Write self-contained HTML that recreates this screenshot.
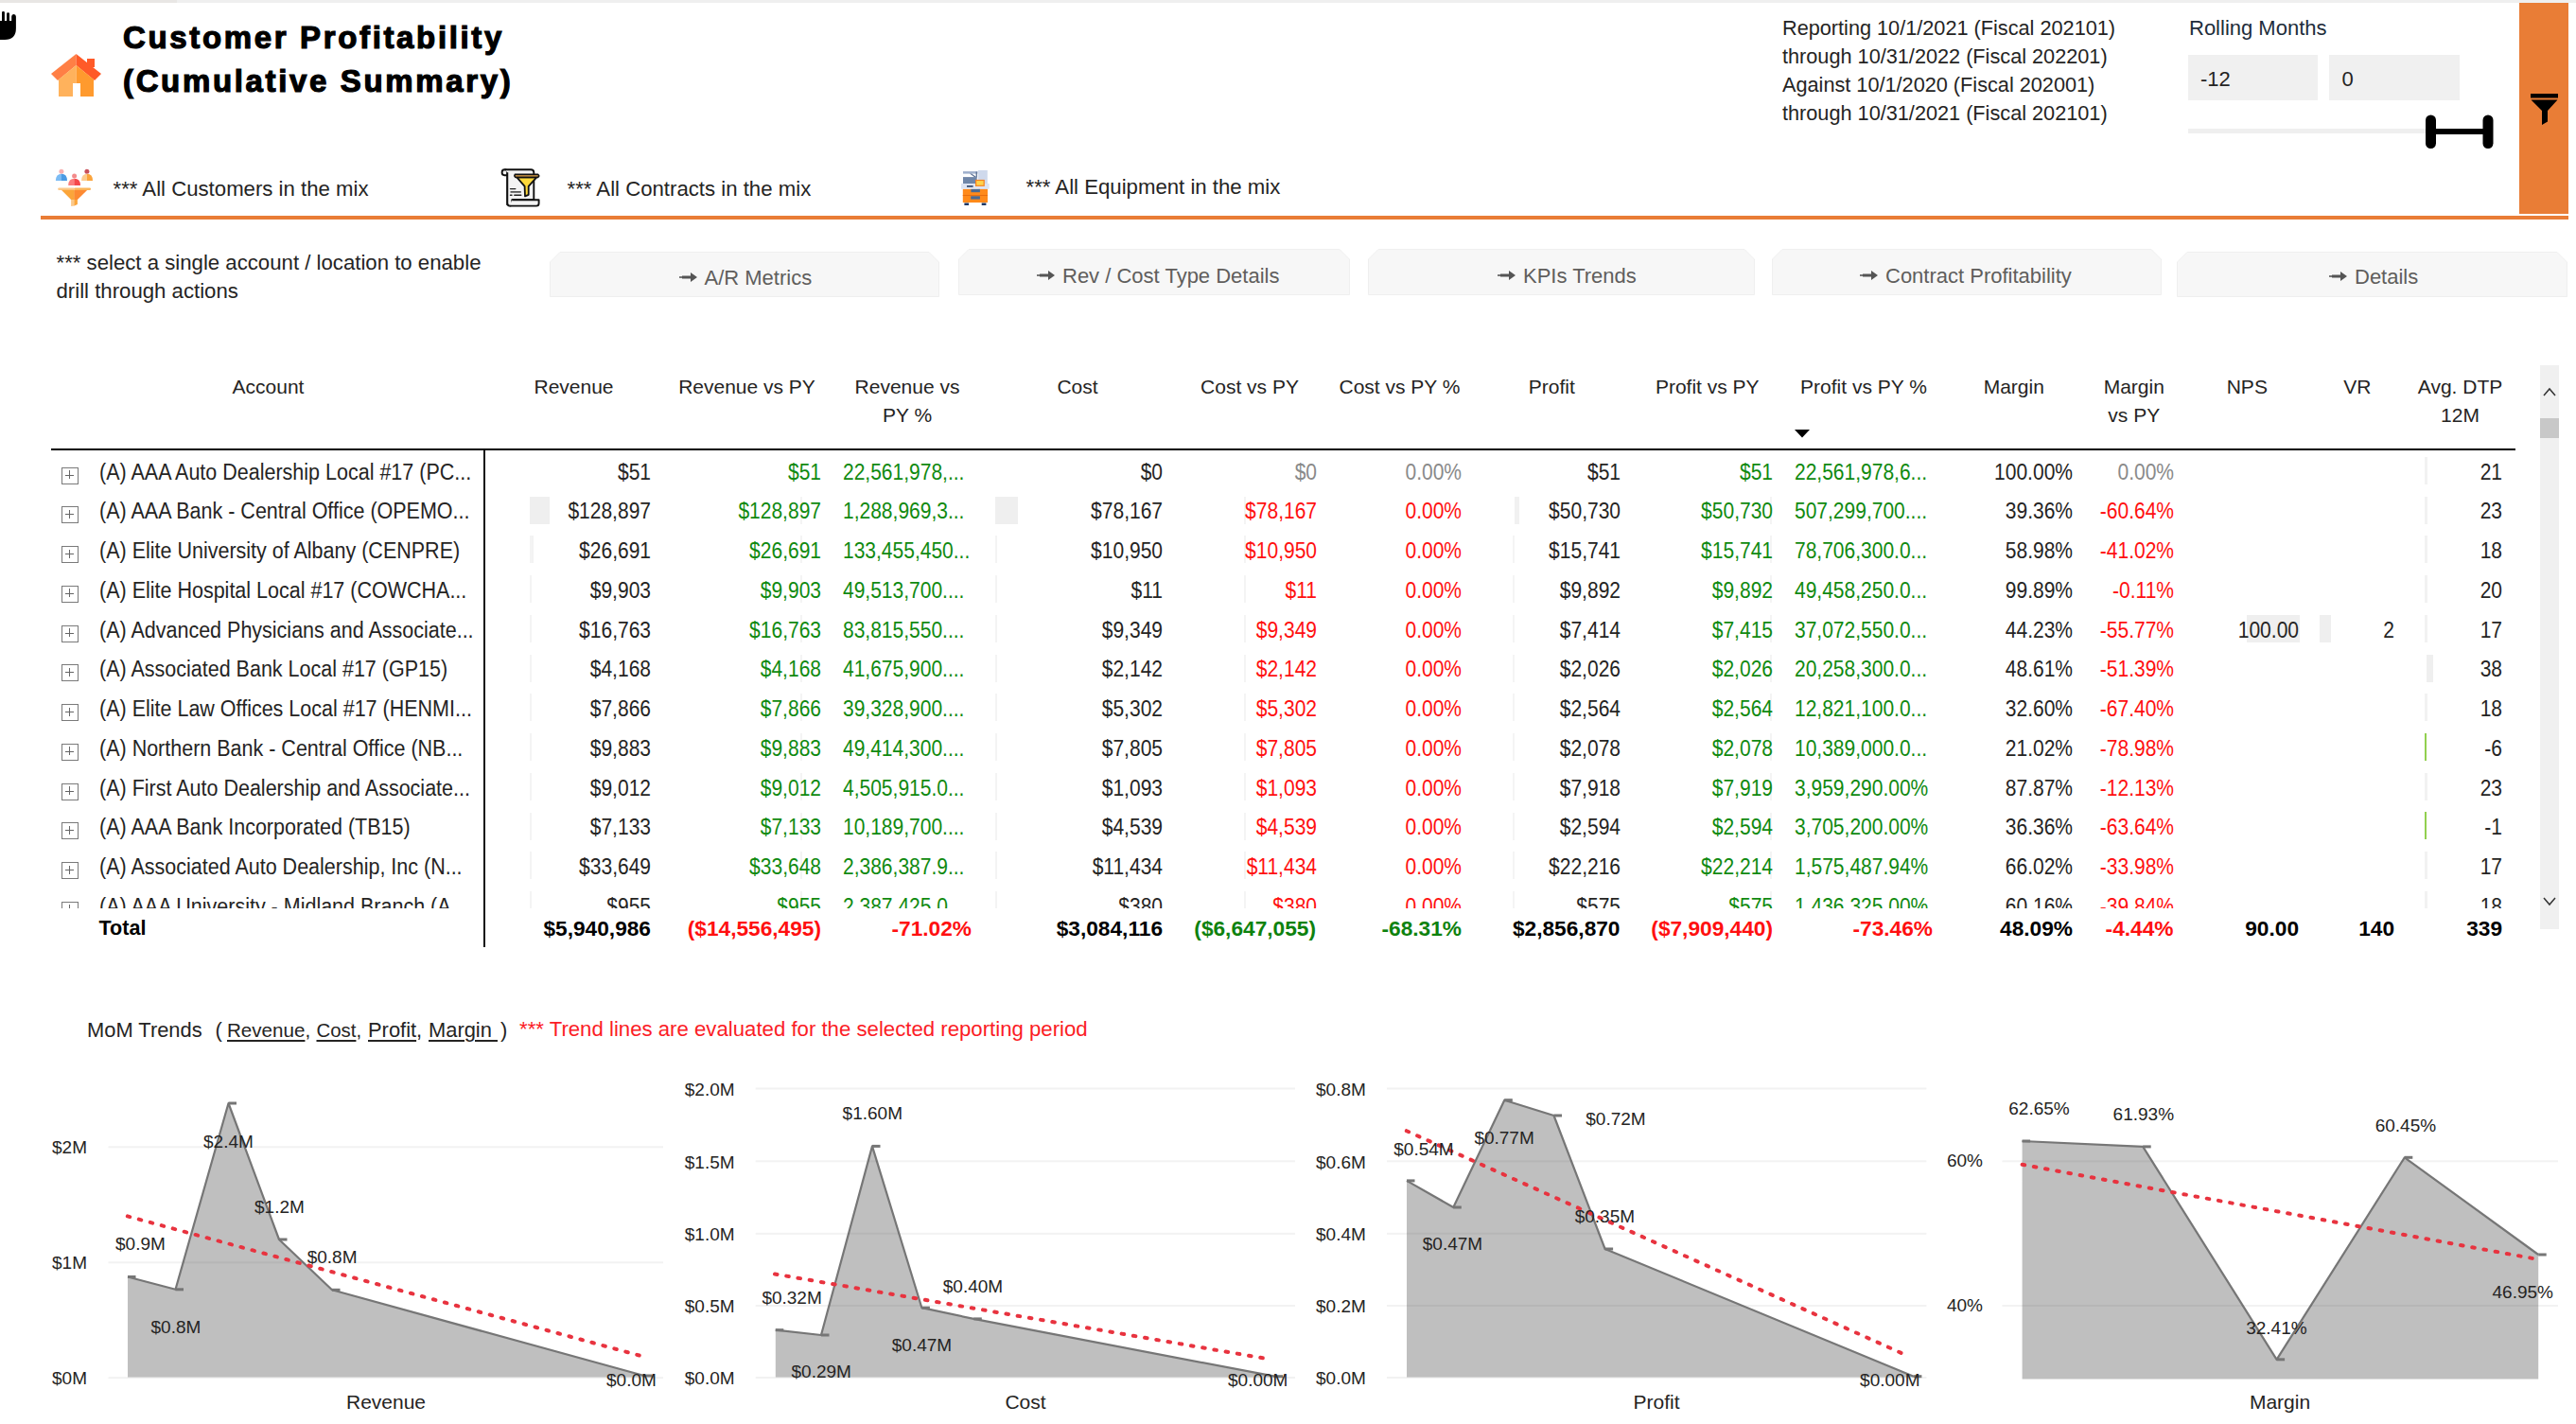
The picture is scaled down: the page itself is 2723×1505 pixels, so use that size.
<!DOCTYPE html>
<html><head><meta charset="utf-8"><style>
html,body{margin:0;padding:0;background:#fff;}
body{width:2723px;height:1505px;position:relative;overflow:hidden;font-family:"Liberation Sans",sans-serif;}
.t{position:absolute;white-space:nowrap;}
.r{position:absolute;}
u{text-underline-offset:3px;text-decoration-thickness:1.5px;}
</style></head><body>
<div class="r" style="left:0px;top:0px;width:187px;height:3px;background:#e8e6e4;"></div>
<div class="r" style="left:187px;top:0px;width:2536px;height:3px;background:#efefef;"></div>
<svg style="position:absolute;left:0;top:0" width="24" height="48" viewBox="0 0 24 48">
<path d="M0 22 L2 22 L2 13 Q2 12 3.5 12 Q4.9 12 4.9 13 L4.9 22 L7.1 22 L7.1 14.5 Q7.1 13.2 8.5 13.2 Q10 13.2 10 14.5 L10 22 L12.2 22 L12.2 17.5 Q12.2 15 14.5 15 Q16.9 15 16.9 17.5 L16.9 30 Q16.9 42 5 42 L0 42 Z" fill="#000"/>
</svg>
<svg style="position:absolute;left:54px;top:57px" width="54" height="45" viewBox="0 0 54 45">
<polygon points="26.5,0 0,21 7,28 26.5,12" fill="#ff7f45"/>
<polygon points="26.5,0 53,21 46,28 26.5,12" fill="#ff5a28"/>
<rect x="38" y="5" width="8" height="9" fill="#ff5a28"/>
<polygon points="8,27 26.5,12 26.5,45 8,45" fill="#ffb25c"/>
<polygon points="26.5,12 45,27 45,45 26.5,45" fill="#ff9a2e"/>
<rect x="23" y="31" width="8" height="14" fill="#fff"/>
</svg>
<div class="t" style="top:23.17px;font-size:33px;line-height:33px;color:#000;font-weight:bold;letter-spacing:2.65px;left:130.00px;-webkit-text-stroke:1.2px #000;">Customer Profitability</div>
<div class="t" style="top:69.07px;font-size:33px;line-height:33px;color:#000;font-weight:bold;letter-spacing:2.65px;left:130.00px;-webkit-text-stroke:1.2px #000;">(Cumulative Summary)</div>
<div class="t" style="top:19.13px;font-size:21.7px;line-height:21.7px;color:#252423;left:1884.00px;">Reporting 10/1/2021 (Fiscal 202101)</div>
<div class="t" style="top:49.13px;font-size:21.7px;line-height:21.7px;color:#252423;left:1884.00px;">through 10/31/2022 (Fiscal 202201)</div>
<div class="t" style="top:79.13px;font-size:21.7px;line-height:21.7px;color:#252423;left:1884.00px;">Against 10/1/2020 (Fiscal 202001)</div>
<div class="t" style="top:109.13px;font-size:21.7px;line-height:21.7px;color:#252423;left:1884.00px;">through 10/31/2021 (Fiscal 202101)</div>
<div class="t" style="top:18.88px;font-size:22px;line-height:22px;color:#1e2d3b;left:2314.00px;">Rolling Months</div>
<div class="r" style="left:2313px;top:58px;width:137px;height:48px;background:#f0f0f0;"></div>
<div class="r" style="left:2462px;top:58px;width:137.5px;height:48px;background:#f0f0f0;"></div>
<div class="t" style="top:72.63px;font-size:22px;line-height:22px;color:#252423;left:2326.00px;">-12</div>
<div class="t" style="top:72.63px;font-size:22px;line-height:22px;color:#252423;left:2475.50px;">0</div>
<div class="r" style="left:2313px;top:136px;width:251px;height:5px;background:#efefef;"></div>
<svg style="position:absolute;left:2562px;top:120px" width="76" height="39" viewBox="0 0 76 39">
<rect x="2" y="1.5" width="11" height="35.5" rx="5.5" fill="#000"/>
<rect x="62.5" y="1.5" width="11" height="35.5" rx="5.5" fill="#000"/>
<rect x="10" y="16" width="56" height="6" fill="#000"/>
</svg>
<div class="r" style="left:2663px;top:3px;width:52px;height:223px;background:#e97d36;"></div>
<svg style="position:absolute;left:2674px;top:98px" width="32" height="34" viewBox="0 0 32 34">
<rect x="1" y="1" width="29" height="4.5" fill="#000"/>
<polygon points="1.5,7.5 29.5,7.5 19,19 19,30.5 13,34 13,19" fill="#000"/>
</svg>
<div class="r" style="left:43px;top:228px;width:2672px;height:4px;background:#e97d36;"></div>
<svg style="position:absolute;left:58px;top:178px" width="42" height="42" viewBox="0 0 42 42">
<circle cx="6.9" cy="3.2" r="2.5" fill="#f7b0b0"/>
<path d="M0.9 13 Q0.9 5.7 7.3 5.7 L7.3 13 Z" fill="#7cbcf4"/><path d="M6.95 5.7 Q13 5.7 13 13 L6.95 13 Z" fill="#4b9be3"/>
<circle cx="20.6" cy="8" r="2.5" fill="#f38b8b"/>
<path d="M14.2 17.9 Q14.2 10.7 20.9 10.7 L20.9 17.9 Z" fill="#fb7d7d"/><path d="M20.6 10.7 Q27 10.7 27 17.9 L20.6 17.9 Z" fill="#f5484b"/>
<circle cx="33.9" cy="3.2" r="2.5" fill="#c9505a"/>
<path d="M28.1 13 Q28.1 5.7 34.3 5.7 L34.3 13 Z" fill="#fccb8e"/><path d="M34 5.7 Q40 5.7 40 13 L34 13 Z" fill="#fba43c"/>
<rect x="3.2" y="20.4" width="17.8" height="2.6" rx="1.2" fill="#fcc98a"/><rect x="20.5" y="20.4" width="17.5" height="2.6" rx="1.2" fill="#fbb45a"/>
<polygon points="6.9,22.8 20.8,22.8 20.8,33.1 17.1,33.1" fill="#fba53a"/>
<polygon points="20.5,23 34.1,23 23.9,32.9 20.5,32.9" fill="#fd8a32"/>
<polygon points="17.1,32.9 20.8,32.9 20.8,39.5 17.1,40" fill="#fcc98a"/>
<polygon points="20.5,32.9 23.9,32.9 23.9,38 20.5,39.5" fill="#fba53a"/>
</svg>
<div class="t" style="top:189.21px;font-size:22.2px;line-height:22.2px;color:#252423;left:119.50px;">*** All Customers in the mix</div>
<svg style="position:absolute;left:525px;top:172px" width="50" height="50" viewBox="0 0 50 50">
<path d="M11.3 45 L11.3 10.3 Q11.3 7.2 8.3 7.2 Q5.6 7.2 5.6 10.3 Q5.6 13.2 8.3 13.2 L11.3 13.2" fill="#f3f3f3" stroke="#111" stroke-width="1.9"/>
<path d="M8.3 7.2 L36.2 7.2 Q39.3 7.2 39.3 10.3 L39.3 39.3 L16.2 39.3 L16.2 42.5 Q16.2 45.6 13.7 45.6 Q11.3 45.6 11.3 42.5 L11.3 10.3" fill="#f3f3f3" stroke="#111" stroke-width="1.9" stroke-linejoin="round"/>
<path d="M16.2 39.3 L44.6 39.3 L44.6 43 Q44.6 45.6 42 45.6 L13.7 45.6" fill="#f3f3f3" stroke="#111" stroke-width="1.9" stroke-linejoin="round"/>
<line x1="14.5" y1="27.6" x2="19.8" y2="27.6" stroke="#222" stroke-width="1.4" stroke-linecap="round"/>
<line x1="14.5" y1="30.9" x2="25.8" y2="30.9" stroke="#444" stroke-width="1.6"/>
<line x1="14.5" y1="34.2" x2="16" y2="34.2" stroke="#222" stroke-width="1.4" stroke-linecap="round"/>
<line x1="18.8" y1="34.2" x2="25.8" y2="34.2" stroke="#222" stroke-width="1.4" stroke-linecap="round"/>
<polygon points="21.3,15.4 42.3,15.4 33.7,24.9 33.7,33.8 30,35.4 29.6,24.9" fill="#ffd93b" stroke="#111" stroke-width="1.8" stroke-linejoin="round"/>
<polygon points="19.3,12.4 43.8,12.4 44.8,13.9 43.6,15.4 19.8,15.4 18.8,13.9" fill="#e8a84a" stroke="#111" stroke-width="1.6" stroke-linejoin="round"/>
</svg>
<div class="t" style="top:189.21px;font-size:22.2px;line-height:22.2px;color:#252423;left:599.50px;">*** All Contracts in the mix</div>
<svg style="position:absolute;left:1015px;top:179px" width="32" height="40" viewBox="0 0 32 40">
<rect x="18.8" y="0.9" width="10" height="19.8" fill="#cfd9ec"/>
<rect x="3" y="2.1" width="15.5" height="2.5" fill="#9fb0cc"/>
<polygon points="10,4.6 12,4.6 17.7,8.5 15.5,8.5" fill="#5a6f92"/>
<rect x="16.6" y="2.5" width="1.3" height="6" fill="#5a6f92"/>
<rect x="3" y="8.1" width="14.7" height="6.9" fill="#6f86a8"/>
<rect x="1" y="15" width="29.7" height="5.7" fill="#dde4f2"/>
<rect x="7" y="17" width="6.6" height="1.8" fill="#3a4f70"/>
<rect x="16" y="10.9" width="9.8" height="7" fill="#f5821f"/>
<rect x="17.2" y="12.1" width="7.4" height="4.6" fill="#ffd34d"/>
<rect x="2.8" y="20.9" width="26.2" height="14.2" fill="#ff8a1a"/>
<rect x="2.8" y="27" width="26.2" height="1" fill="#e86e10"/>
<rect x="11.4" y="20.9" width="9.5" height="3.3" fill="#4a6a92"/>
<rect x="11.2" y="28.3" width="9.7" height="3.3" fill="#4a6a92"/>
<rect x="4.4" y="35.5" width="4.7" height="2.5" fill="#1f3864"/>
<rect x="22.7" y="35.5" width="4.7" height="2.5" fill="#1f3864"/>
</svg>
<div class="t" style="top:187.21px;font-size:22.2px;line-height:22.2px;color:#252423;left:1084.50px;">*** All Equipment in the mix</div>
<div class="t" style="top:266.71px;font-size:22.2px;line-height:22.2px;color:#252423;left:59.50px;">*** select a single account / location to enable</div>
<div class="t" style="top:296.71px;font-size:22.2px;line-height:22.2px;color:#252423;left:59.50px;">drill through actions</div>
<svg style="position:absolute;left:581px;top:266px" width="412" height="48" viewBox="0 0 412 48">
<polygon points="11,0.5 401,0.5 411.5,11 411.5,47.5 0.5,47.5 0.5,11" fill="#f7f7f7" stroke="#efefef" stroke-width="1"/></svg>
<svg style="position:absolute;left:717.5px;top:287px" width="20" height="12" viewBox="0 0 20 12">
<rect x="0" y="5" width="3" height="2" fill="#777"/><rect x="3" y="4.5" width="11" height="3" fill="#555"/>
<polygon points="12,1 19,6 12,11" fill="#555"/></svg>
<div class="t" style="top:283.38px;font-size:22px;line-height:22px;color:#605e5c;left:744.50px;">A/R Metrics</div>
<svg style="position:absolute;left:1013px;top:263px" width="414" height="49" viewBox="0 0 414 49">
<polygon points="11,0.5 403,0.5 413.5,11 413.5,48.5 0.5,48.5 0.5,11" fill="#f7f7f7" stroke="#efefef" stroke-width="1"/></svg>
<svg style="position:absolute;left:1096px;top:284.5px" width="20" height="12" viewBox="0 0 20 12">
<rect x="0" y="5" width="3" height="2" fill="#777"/><rect x="3" y="4.5" width="11" height="3" fill="#555"/>
<polygon points="12,1 19,6 12,11" fill="#555"/></svg>
<div class="t" style="top:280.88px;font-size:22px;line-height:22px;color:#605e5c;left:1123.00px;">Rev / Cost Type Details</div>
<svg style="position:absolute;left:1446px;top:263px" width="409" height="49" viewBox="0 0 409 49">
<polygon points="11,0.5 398,0.5 408.5,11 408.5,48.5 0.5,48.5 0.5,11" fill="#f7f7f7" stroke="#efefef" stroke-width="1"/></svg>
<svg style="position:absolute;left:1583px;top:284.5px" width="20" height="12" viewBox="0 0 20 12">
<rect x="0" y="5" width="3" height="2" fill="#777"/><rect x="3" y="4.5" width="11" height="3" fill="#555"/>
<polygon points="12,1 19,6 12,11" fill="#555"/></svg>
<div class="t" style="top:280.88px;font-size:22px;line-height:22px;color:#605e5c;left:1610.00px;">KPIs Trends</div>
<svg style="position:absolute;left:1873px;top:263px" width="412" height="49" viewBox="0 0 412 49">
<polygon points="11,0.5 401,0.5 411.5,11 411.5,48.5 0.5,48.5 0.5,11" fill="#f7f7f7" stroke="#efefef" stroke-width="1"/></svg>
<svg style="position:absolute;left:1966px;top:284.5px" width="20" height="12" viewBox="0 0 20 12">
<rect x="0" y="5" width="3" height="2" fill="#777"/><rect x="3" y="4.5" width="11" height="3" fill="#555"/>
<polygon points="12,1 19,6 12,11" fill="#555"/></svg>
<div class="t" style="top:280.88px;font-size:22px;line-height:22px;color:#605e5c;left:1993.00px;">Contract Profitability</div>
<svg style="position:absolute;left:2301px;top:266px" width="413" height="48" viewBox="0 0 413 48">
<polygon points="11,0.5 402,0.5 412.5,11 412.5,47.5 0.5,47.5 0.5,11" fill="#f7f7f7" stroke="#efefef" stroke-width="1"/></svg>
<svg style="position:absolute;left:2462px;top:286px" width="20" height="12" viewBox="0 0 20 12">
<rect x="0" y="5" width="3" height="2" fill="#777"/><rect x="3" y="4.5" width="11" height="3" fill="#555"/>
<polygon points="12,1 19,6 12,11" fill="#555"/></svg>
<div class="t" style="top:282.38px;font-size:22px;line-height:22px;color:#605e5c;left:2489.00px;">Details</div>
<div class="t" style="top:398.47px;font-size:21px;line-height:21px;color:#252423;left:-316.50px;width:1200px;text-align:center;">Account</div>
<div class="t" style="top:398.47px;font-size:21px;line-height:21px;color:#252423;left:6.50px;width:1200px;text-align:center;">Revenue</div>
<div class="t" style="top:398.47px;font-size:21px;line-height:21px;color:#252423;left:189.50px;width:1200px;text-align:center;">Revenue vs PY</div>
<div class="t" style="top:398.47px;font-size:21px;line-height:21px;color:#252423;left:359.00px;width:1200px;text-align:center;">Revenue vs</div>
<div class="t" style="top:427.97px;font-size:21px;line-height:21px;color:#252423;left:359.00px;width:1200px;text-align:center;">PY %</div>
<div class="t" style="top:398.47px;font-size:21px;line-height:21px;color:#252423;left:539.00px;width:1200px;text-align:center;">Cost</div>
<div class="t" style="top:398.47px;font-size:21px;line-height:21px;color:#252423;left:721.00px;width:1200px;text-align:center;">Cost vs PY</div>
<div class="t" style="top:398.47px;font-size:21px;line-height:21px;color:#252423;left:879.50px;width:1200px;text-align:center;">Cost vs PY %</div>
<div class="t" style="top:398.47px;font-size:21px;line-height:21px;color:#252423;left:1040.25px;width:1200px;text-align:center;">Profit</div>
<div class="t" style="top:398.47px;font-size:21px;line-height:21px;color:#252423;left:1204.75px;width:1200px;text-align:center;">Profit vs PY</div>
<div class="t" style="top:398.47px;font-size:21px;line-height:21px;color:#252423;left:1370.00px;width:1200px;text-align:center;">Profit vs PY %</div>
<div class="t" style="top:398.47px;font-size:21px;line-height:21px;color:#252423;left:1528.75px;width:1200px;text-align:center;">Margin</div>
<div class="t" style="top:398.47px;font-size:21px;line-height:21px;color:#252423;left:1655.75px;width:1200px;text-align:center;">Margin</div>
<div class="t" style="top:427.97px;font-size:21px;line-height:21px;color:#252423;left:1655.75px;width:1200px;text-align:center;">vs PY</div>
<div class="t" style="top:398.47px;font-size:21px;line-height:21px;color:#252423;left:1775.30px;width:1200px;text-align:center;">NPS</div>
<div class="t" style="top:398.47px;font-size:21px;line-height:21px;color:#252423;left:1891.80px;width:1200px;text-align:center;">VR</div>
<div class="t" style="top:398.47px;font-size:21px;line-height:21px;color:#252423;left:2000.50px;width:1200px;text-align:center;">Avg. DTP</div>
<div class="t" style="top:427.97px;font-size:21px;line-height:21px;color:#252423;left:2000.50px;width:1200px;text-align:center;">12M</div>
<svg style="position:absolute;left:1897px;top:454px" width="16" height="9" viewBox="0 0 16 9"><polygon points="0,0 16,0 8,8.5" fill="#000"/></svg>
<div class="r" style="left:54px;top:473.5px;width:2605px;height:2.5px;background:#000;"></div>
<div class="r" style="left:511px;top:475px;width:2.2px;height:526px;background:#111;"></div>
<div class="r" style="left:560px;top:524.5px;width:21px;height:29px;background:#efefef;"></div>
<div class="r" style="left:1052px;top:524.5px;width:24px;height:29px;background:#efefef;"></div>
<div class="r" style="left:1601px;top:524.5px;width:5px;height:29px;background:#f1f1f1;"></div>
<div class="r" style="left:560px;top:566px;width:4px;height:29px;background:#f3f3f3;"></div>
<div class="r" style="left:2375px;top:650px;width:56px;height:29px;background:#efefef;"></div>
<div class="r" style="left:2452px;top:650px;width:12px;height:29px;background:#efefef;"></div>
<div class="r" style="left:2565px;top:692px;width:7px;height:29px;background:#efefef;"></div>
<div class="r" style="left:846px;top:524.5px;width:2px;height:29px;background:#f4f4f4;"></div>
<div class="r" style="left:1315px;top:524.5px;width:2px;height:29px;background:#f4f4f4;"></div>
<div class="r" style="left:1871px;top:524.5px;width:2px;height:29px;background:#f4f4f4;"></div>
<div class="r" style="left:560px;top:566.25px;width:2px;height:29px;background:#f4f4f4;"></div>
<div class="r" style="left:846px;top:566.25px;width:2px;height:29px;background:#f4f4f4;"></div>
<div class="r" style="left:1052px;top:566.25px;width:2px;height:29px;background:#f4f4f4;"></div>
<div class="r" style="left:1315px;top:566.25px;width:2px;height:29px;background:#f4f4f4;"></div>
<div class="r" style="left:1599px;top:566.25px;width:2px;height:29px;background:#f4f4f4;"></div>
<div class="r" style="left:1871px;top:566.25px;width:2px;height:29px;background:#f4f4f4;"></div>
<div class="r" style="left:560px;top:608.0px;width:2px;height:29px;background:#f4f4f4;"></div>
<div class="r" style="left:846px;top:608.0px;width:2px;height:29px;background:#f4f4f4;"></div>
<div class="r" style="left:1052px;top:608.0px;width:2px;height:29px;background:#f4f4f4;"></div>
<div class="r" style="left:1315px;top:608.0px;width:2px;height:29px;background:#f4f4f4;"></div>
<div class="r" style="left:1599px;top:608.0px;width:2px;height:29px;background:#f4f4f4;"></div>
<div class="r" style="left:1871px;top:608.0px;width:2px;height:29px;background:#f4f4f4;"></div>
<div class="r" style="left:560px;top:649.75px;width:2px;height:29px;background:#f4f4f4;"></div>
<div class="r" style="left:846px;top:649.75px;width:2px;height:29px;background:#f4f4f4;"></div>
<div class="r" style="left:1052px;top:649.75px;width:2px;height:29px;background:#f4f4f4;"></div>
<div class="r" style="left:1315px;top:649.75px;width:2px;height:29px;background:#f4f4f4;"></div>
<div class="r" style="left:1599px;top:649.75px;width:2px;height:29px;background:#f4f4f4;"></div>
<div class="r" style="left:1871px;top:649.75px;width:2px;height:29px;background:#f4f4f4;"></div>
<div class="r" style="left:560px;top:691.5px;width:2px;height:29px;background:#f4f4f4;"></div>
<div class="r" style="left:846px;top:691.5px;width:2px;height:29px;background:#f4f4f4;"></div>
<div class="r" style="left:1052px;top:691.5px;width:2px;height:29px;background:#f4f4f4;"></div>
<div class="r" style="left:1315px;top:691.5px;width:2px;height:29px;background:#f4f4f4;"></div>
<div class="r" style="left:1599px;top:691.5px;width:2px;height:29px;background:#f4f4f4;"></div>
<div class="r" style="left:1871px;top:691.5px;width:2px;height:29px;background:#f4f4f4;"></div>
<div class="r" style="left:560px;top:733.25px;width:2px;height:29px;background:#f4f4f4;"></div>
<div class="r" style="left:846px;top:733.25px;width:2px;height:29px;background:#f4f4f4;"></div>
<div class="r" style="left:1052px;top:733.25px;width:2px;height:29px;background:#f4f4f4;"></div>
<div class="r" style="left:1315px;top:733.25px;width:2px;height:29px;background:#f4f4f4;"></div>
<div class="r" style="left:1599px;top:733.25px;width:2px;height:29px;background:#f4f4f4;"></div>
<div class="r" style="left:1871px;top:733.25px;width:2px;height:29px;background:#f4f4f4;"></div>
<div class="r" style="left:560px;top:775.0px;width:2px;height:29px;background:#f4f4f4;"></div>
<div class="r" style="left:846px;top:775.0px;width:2px;height:29px;background:#f4f4f4;"></div>
<div class="r" style="left:1052px;top:775.0px;width:2px;height:29px;background:#f4f4f4;"></div>
<div class="r" style="left:1315px;top:775.0px;width:2px;height:29px;background:#f4f4f4;"></div>
<div class="r" style="left:1599px;top:775.0px;width:2px;height:29px;background:#f4f4f4;"></div>
<div class="r" style="left:1871px;top:775.0px;width:2px;height:29px;background:#f4f4f4;"></div>
<div class="r" style="left:560px;top:816.75px;width:2px;height:29px;background:#f4f4f4;"></div>
<div class="r" style="left:846px;top:816.75px;width:2px;height:29px;background:#f4f4f4;"></div>
<div class="r" style="left:1052px;top:816.75px;width:2px;height:29px;background:#f4f4f4;"></div>
<div class="r" style="left:1315px;top:816.75px;width:2px;height:29px;background:#f4f4f4;"></div>
<div class="r" style="left:1599px;top:816.75px;width:2px;height:29px;background:#f4f4f4;"></div>
<div class="r" style="left:1871px;top:816.75px;width:2px;height:29px;background:#f4f4f4;"></div>
<div class="r" style="left:560px;top:858.5px;width:2px;height:29px;background:#f4f4f4;"></div>
<div class="r" style="left:846px;top:858.5px;width:2px;height:29px;background:#f4f4f4;"></div>
<div class="r" style="left:1052px;top:858.5px;width:2px;height:29px;background:#f4f4f4;"></div>
<div class="r" style="left:1315px;top:858.5px;width:2px;height:29px;background:#f4f4f4;"></div>
<div class="r" style="left:1599px;top:858.5px;width:2px;height:29px;background:#f4f4f4;"></div>
<div class="r" style="left:1871px;top:858.5px;width:2px;height:29px;background:#f4f4f4;"></div>
<div class="r" style="left:560px;top:900.25px;width:2px;height:29px;background:#f4f4f4;"></div>
<div class="r" style="left:846px;top:900.25px;width:2px;height:29px;background:#f4f4f4;"></div>
<div class="r" style="left:1052px;top:900.25px;width:2px;height:29px;background:#f4f4f4;"></div>
<div class="r" style="left:1315px;top:900.25px;width:2px;height:29px;background:#f4f4f4;"></div>
<div class="r" style="left:1599px;top:900.25px;width:2px;height:29px;background:#f4f4f4;"></div>
<div class="r" style="left:1871px;top:900.25px;width:2px;height:29px;background:#f4f4f4;"></div>
<div class="r" style="left:560px;top:942.0px;width:2px;height:18.0px;background:#f4f4f4;"></div>
<div class="r" style="left:846px;top:942.0px;width:2px;height:18.0px;background:#f4f4f4;"></div>
<div class="r" style="left:1052px;top:942.0px;width:2px;height:18.0px;background:#f4f4f4;"></div>
<div class="r" style="left:1315px;top:942.0px;width:2px;height:18.0px;background:#f4f4f4;"></div>
<div class="r" style="left:1599px;top:942.0px;width:2px;height:18.0px;background:#f4f4f4;"></div>
<div class="r" style="left:1871px;top:942.0px;width:2px;height:18.0px;background:#f4f4f4;"></div>
<div class="r" style="left:2563px;top:482.75px;width:3px;height:29px;background:#f2f2f2;"></div>
<div class="r" style="left:2563px;top:524.5px;width:3px;height:29px;background:#f2f2f2;"></div>
<div class="r" style="left:2563px;top:566.25px;width:3px;height:29px;background:#f2f2f2;"></div>
<div class="r" style="left:2563px;top:608.0px;width:3px;height:29px;background:#f2f2f2;"></div>
<div class="r" style="left:2563px;top:649.75px;width:3px;height:29px;background:#f2f2f2;"></div>
<div class="r" style="left:2563px;top:733.25px;width:3px;height:29px;background:#f2f2f2;"></div>
<div class="r" style="left:2563px;top:816.75px;width:3px;height:29px;background:#f2f2f2;"></div>
<div class="r" style="left:2563px;top:900.25px;width:3px;height:29px;background:#f2f2f2;"></div>
<div class="r" style="left:2563px;top:942.0px;width:3px;height:18.0px;background:#f2f2f2;"></div>
<div class="r" style="left:2563px;top:775px;width:2px;height:29px;background:#92d050;"></div>
<div class="r" style="left:2563px;top:858px;width:2px;height:29px;background:#92d050;"></div>
<div style="position:absolute;left:0;top:476px;width:2680px;height:484px;overflow:hidden">
<div class="r" style="left:65px;top:17.50px;width:16px;height:16px;border:1px solid #7a7a7a;background:#fff"></div>
<div class="r" style="left:69px;top:25.50px;width:9px;height:1px;background:#666"></div>
<div class="r" style="left:73px;top:21.00px;width:1px;height:9px;background:#666"></div>
<div class="t" style="top:11.53px;font-size:23px;line-height:23px;color:#252423;transform:scaleX(0.9347826086956522);transform-origin:left center;left:104.50px;">(A) AAA Auto Dealership Local #17 (PC...</div>
<div class="t" style="top:11.53px;font-size:23px;line-height:23px;color:#252423;transform:scaleX(0.9130434782608695);transform-origin:right center;left:-512.50px;width:1200px;text-align:right;">$51</div>
<div class="t" style="top:11.53px;font-size:23px;line-height:23px;color:#108a10;transform:scaleX(0.9130434782608695);transform-origin:right center;left:-332.50px;width:1200px;text-align:right;">$51</div>
<div class="t" style="top:11.53px;font-size:23px;line-height:23px;color:#108a10;transform:scaleX(0.9130434782608695);transform-origin:left center;left:890.50px;">22,561,978,...</div>
<div class="t" style="top:11.53px;font-size:23px;line-height:23px;color:#252423;transform:scaleX(0.9130434782608695);transform-origin:right center;left:29.00px;width:1200px;text-align:right;">$0</div>
<div class="t" style="top:11.53px;font-size:23px;line-height:23px;color:#8a8a8a;transform:scaleX(0.9130434782608695);transform-origin:right center;left:192.00px;width:1200px;text-align:right;">$0</div>
<div class="t" style="top:11.53px;font-size:23px;line-height:23px;color:#8a8a8a;transform:scaleX(0.9130434782608695);transform-origin:right center;left:345.00px;width:1200px;text-align:right;">0.00%</div>
<div class="t" style="top:11.53px;font-size:23px;line-height:23px;color:#252423;transform:scaleX(0.9130434782608695);transform-origin:right center;left:512.50px;width:1200px;text-align:right;">$51</div>
<div class="t" style="top:11.53px;font-size:23px;line-height:23px;color:#108a10;transform:scaleX(0.9130434782608695);transform-origin:right center;left:674.00px;width:1200px;text-align:right;">$51</div>
<div class="t" style="top:11.53px;font-size:23px;line-height:23px;color:#108a10;transform:scaleX(0.9130434782608695);transform-origin:left center;left:1897.00px;">22,561,978,6...</div>
<div class="t" style="top:11.53px;font-size:23px;line-height:23px;color:#252423;transform:scaleX(0.9130434782608695);transform-origin:right center;left:991.00px;width:1200px;text-align:right;">100.00%</div>
<div class="t" style="top:11.53px;font-size:23px;line-height:23px;color:#8a8a8a;transform:scaleX(0.9130434782608695);transform-origin:right center;left:1097.50px;width:1200px;text-align:right;">0.00%</div>
<div class="t" style="top:11.53px;font-size:23px;line-height:23px;color:#252423;transform:scaleX(0.9130434782608695);transform-origin:right center;left:1445.00px;width:1200px;text-align:right;">21</div>
<div class="r" style="left:65px;top:59.25px;width:16px;height:16px;border:1px solid #7a7a7a;background:#fff"></div>
<div class="r" style="left:69px;top:67.25px;width:9px;height:1px;background:#666"></div>
<div class="r" style="left:73px;top:62.75px;width:1px;height:9px;background:#666"></div>
<div class="t" style="top:53.28px;font-size:23px;line-height:23px;color:#252423;transform:scaleX(0.9347826086956522);transform-origin:left center;left:104.50px;">(A) AAA Bank - Central Office (OPEMO...</div>
<div class="t" style="top:53.28px;font-size:23px;line-height:23px;color:#252423;transform:scaleX(0.9130434782608695);transform-origin:right center;left:-512.50px;width:1200px;text-align:right;">$128,897</div>
<div class="t" style="top:53.28px;font-size:23px;line-height:23px;color:#108a10;transform:scaleX(0.9130434782608695);transform-origin:right center;left:-332.50px;width:1200px;text-align:right;">$128,897</div>
<div class="t" style="top:53.28px;font-size:23px;line-height:23px;color:#108a10;transform:scaleX(0.9130434782608695);transform-origin:left center;left:890.50px;">1,288,969,3...</div>
<div class="t" style="top:53.28px;font-size:23px;line-height:23px;color:#252423;transform:scaleX(0.9130434782608695);transform-origin:right center;left:29.00px;width:1200px;text-align:right;">$78,167</div>
<div class="t" style="top:53.28px;font-size:23px;line-height:23px;color:#ff1010;transform:scaleX(0.9130434782608695);transform-origin:right center;left:192.00px;width:1200px;text-align:right;">$78,167</div>
<div class="t" style="top:53.28px;font-size:23px;line-height:23px;color:#ff1010;transform:scaleX(0.9130434782608695);transform-origin:right center;left:345.00px;width:1200px;text-align:right;">0.00%</div>
<div class="t" style="top:53.28px;font-size:23px;line-height:23px;color:#252423;transform:scaleX(0.9130434782608695);transform-origin:right center;left:512.50px;width:1200px;text-align:right;">$50,730</div>
<div class="t" style="top:53.28px;font-size:23px;line-height:23px;color:#108a10;transform:scaleX(0.9130434782608695);transform-origin:right center;left:674.00px;width:1200px;text-align:right;">$50,730</div>
<div class="t" style="top:53.28px;font-size:23px;line-height:23px;color:#108a10;transform:scaleX(0.9130434782608695);transform-origin:left center;left:1897.00px;">507,299,700....</div>
<div class="t" style="top:53.28px;font-size:23px;line-height:23px;color:#252423;transform:scaleX(0.9130434782608695);transform-origin:right center;left:991.00px;width:1200px;text-align:right;">39.36%</div>
<div class="t" style="top:53.28px;font-size:23px;line-height:23px;color:#ff1010;transform:scaleX(0.9130434782608695);transform-origin:right center;left:1097.50px;width:1200px;text-align:right;">-60.64%</div>
<div class="t" style="top:53.28px;font-size:23px;line-height:23px;color:#252423;transform:scaleX(0.9130434782608695);transform-origin:right center;left:1445.00px;width:1200px;text-align:right;">23</div>
<div class="r" style="left:65px;top:101.00px;width:16px;height:16px;border:1px solid #7a7a7a;background:#fff"></div>
<div class="r" style="left:69px;top:109.00px;width:9px;height:1px;background:#666"></div>
<div class="r" style="left:73px;top:104.50px;width:1px;height:9px;background:#666"></div>
<div class="t" style="top:95.03px;font-size:23px;line-height:23px;color:#252423;transform:scaleX(0.9347826086956522);transform-origin:left center;left:104.50px;">(A) Elite University of Albany (CENPRE)</div>
<div class="t" style="top:95.03px;font-size:23px;line-height:23px;color:#252423;transform:scaleX(0.9130434782608695);transform-origin:right center;left:-512.50px;width:1200px;text-align:right;">$26,691</div>
<div class="t" style="top:95.03px;font-size:23px;line-height:23px;color:#108a10;transform:scaleX(0.9130434782608695);transform-origin:right center;left:-332.50px;width:1200px;text-align:right;">$26,691</div>
<div class="t" style="top:95.03px;font-size:23px;line-height:23px;color:#108a10;transform:scaleX(0.9130434782608695);transform-origin:left center;left:890.50px;">133,455,450...</div>
<div class="t" style="top:95.03px;font-size:23px;line-height:23px;color:#252423;transform:scaleX(0.9130434782608695);transform-origin:right center;left:29.00px;width:1200px;text-align:right;">$10,950</div>
<div class="t" style="top:95.03px;font-size:23px;line-height:23px;color:#ff1010;transform:scaleX(0.9130434782608695);transform-origin:right center;left:192.00px;width:1200px;text-align:right;">$10,950</div>
<div class="t" style="top:95.03px;font-size:23px;line-height:23px;color:#ff1010;transform:scaleX(0.9130434782608695);transform-origin:right center;left:345.00px;width:1200px;text-align:right;">0.00%</div>
<div class="t" style="top:95.03px;font-size:23px;line-height:23px;color:#252423;transform:scaleX(0.9130434782608695);transform-origin:right center;left:512.50px;width:1200px;text-align:right;">$15,741</div>
<div class="t" style="top:95.03px;font-size:23px;line-height:23px;color:#108a10;transform:scaleX(0.9130434782608695);transform-origin:right center;left:674.00px;width:1200px;text-align:right;">$15,741</div>
<div class="t" style="top:95.03px;font-size:23px;line-height:23px;color:#108a10;transform:scaleX(0.9130434782608695);transform-origin:left center;left:1897.00px;">78,706,300.0...</div>
<div class="t" style="top:95.03px;font-size:23px;line-height:23px;color:#252423;transform:scaleX(0.9130434782608695);transform-origin:right center;left:991.00px;width:1200px;text-align:right;">58.98%</div>
<div class="t" style="top:95.03px;font-size:23px;line-height:23px;color:#ff1010;transform:scaleX(0.9130434782608695);transform-origin:right center;left:1097.50px;width:1200px;text-align:right;">-41.02%</div>
<div class="t" style="top:95.03px;font-size:23px;line-height:23px;color:#252423;transform:scaleX(0.9130434782608695);transform-origin:right center;left:1445.00px;width:1200px;text-align:right;">18</div>
<div class="r" style="left:65px;top:142.75px;width:16px;height:16px;border:1px solid #7a7a7a;background:#fff"></div>
<div class="r" style="left:69px;top:150.75px;width:9px;height:1px;background:#666"></div>
<div class="r" style="left:73px;top:146.25px;width:1px;height:9px;background:#666"></div>
<div class="t" style="top:136.78px;font-size:23px;line-height:23px;color:#252423;transform:scaleX(0.9347826086956522);transform-origin:left center;left:104.50px;">(A) Elite Hospital Local #17 (COWCHA...</div>
<div class="t" style="top:136.78px;font-size:23px;line-height:23px;color:#252423;transform:scaleX(0.9130434782608695);transform-origin:right center;left:-512.50px;width:1200px;text-align:right;">$9,903</div>
<div class="t" style="top:136.78px;font-size:23px;line-height:23px;color:#108a10;transform:scaleX(0.9130434782608695);transform-origin:right center;left:-332.50px;width:1200px;text-align:right;">$9,903</div>
<div class="t" style="top:136.78px;font-size:23px;line-height:23px;color:#108a10;transform:scaleX(0.9130434782608695);transform-origin:left center;left:890.50px;">49,513,700....</div>
<div class="t" style="top:136.78px;font-size:23px;line-height:23px;color:#252423;transform:scaleX(0.9130434782608695);transform-origin:right center;left:29.00px;width:1200px;text-align:right;">$11</div>
<div class="t" style="top:136.78px;font-size:23px;line-height:23px;color:#ff1010;transform:scaleX(0.9130434782608695);transform-origin:right center;left:192.00px;width:1200px;text-align:right;">$11</div>
<div class="t" style="top:136.78px;font-size:23px;line-height:23px;color:#ff1010;transform:scaleX(0.9130434782608695);transform-origin:right center;left:345.00px;width:1200px;text-align:right;">0.00%</div>
<div class="t" style="top:136.78px;font-size:23px;line-height:23px;color:#252423;transform:scaleX(0.9130434782608695);transform-origin:right center;left:512.50px;width:1200px;text-align:right;">$9,892</div>
<div class="t" style="top:136.78px;font-size:23px;line-height:23px;color:#108a10;transform:scaleX(0.9130434782608695);transform-origin:right center;left:674.00px;width:1200px;text-align:right;">$9,892</div>
<div class="t" style="top:136.78px;font-size:23px;line-height:23px;color:#108a10;transform:scaleX(0.9130434782608695);transform-origin:left center;left:1897.00px;">49,458,250.0...</div>
<div class="t" style="top:136.78px;font-size:23px;line-height:23px;color:#252423;transform:scaleX(0.9130434782608695);transform-origin:right center;left:991.00px;width:1200px;text-align:right;">99.89%</div>
<div class="t" style="top:136.78px;font-size:23px;line-height:23px;color:#ff1010;transform:scaleX(0.9130434782608695);transform-origin:right center;left:1097.50px;width:1200px;text-align:right;">-0.11%</div>
<div class="t" style="top:136.78px;font-size:23px;line-height:23px;color:#252423;transform:scaleX(0.9130434782608695);transform-origin:right center;left:1445.00px;width:1200px;text-align:right;">20</div>
<div class="r" style="left:65px;top:184.50px;width:16px;height:16px;border:1px solid #7a7a7a;background:#fff"></div>
<div class="r" style="left:69px;top:192.50px;width:9px;height:1px;background:#666"></div>
<div class="r" style="left:73px;top:188.00px;width:1px;height:9px;background:#666"></div>
<div class="t" style="top:178.53px;font-size:23px;line-height:23px;color:#252423;transform:scaleX(0.9347826086956522);transform-origin:left center;left:104.50px;">(A) Advanced Physicians and Associate...</div>
<div class="t" style="top:178.53px;font-size:23px;line-height:23px;color:#252423;transform:scaleX(0.9130434782608695);transform-origin:right center;left:-512.50px;width:1200px;text-align:right;">$16,763</div>
<div class="t" style="top:178.53px;font-size:23px;line-height:23px;color:#108a10;transform:scaleX(0.9130434782608695);transform-origin:right center;left:-332.50px;width:1200px;text-align:right;">$16,763</div>
<div class="t" style="top:178.53px;font-size:23px;line-height:23px;color:#108a10;transform:scaleX(0.9130434782608695);transform-origin:left center;left:890.50px;">83,815,550....</div>
<div class="t" style="top:178.53px;font-size:23px;line-height:23px;color:#252423;transform:scaleX(0.9130434782608695);transform-origin:right center;left:29.00px;width:1200px;text-align:right;">$9,349</div>
<div class="t" style="top:178.53px;font-size:23px;line-height:23px;color:#ff1010;transform:scaleX(0.9130434782608695);transform-origin:right center;left:192.00px;width:1200px;text-align:right;">$9,349</div>
<div class="t" style="top:178.53px;font-size:23px;line-height:23px;color:#ff1010;transform:scaleX(0.9130434782608695);transform-origin:right center;left:345.00px;width:1200px;text-align:right;">0.00%</div>
<div class="t" style="top:178.53px;font-size:23px;line-height:23px;color:#252423;transform:scaleX(0.9130434782608695);transform-origin:right center;left:512.50px;width:1200px;text-align:right;">$7,414</div>
<div class="t" style="top:178.53px;font-size:23px;line-height:23px;color:#108a10;transform:scaleX(0.9130434782608695);transform-origin:right center;left:674.00px;width:1200px;text-align:right;">$7,415</div>
<div class="t" style="top:178.53px;font-size:23px;line-height:23px;color:#108a10;transform:scaleX(0.9130434782608695);transform-origin:left center;left:1897.00px;">37,072,550.0...</div>
<div class="t" style="top:178.53px;font-size:23px;line-height:23px;color:#252423;transform:scaleX(0.9130434782608695);transform-origin:right center;left:991.00px;width:1200px;text-align:right;">44.23%</div>
<div class="t" style="top:178.53px;font-size:23px;line-height:23px;color:#ff1010;transform:scaleX(0.9130434782608695);transform-origin:right center;left:1097.50px;width:1200px;text-align:right;">-55.77%</div>
<div class="t" style="top:178.53px;font-size:23px;line-height:23px;color:#252423;transform:scaleX(0.9130434782608695);transform-origin:right center;left:1230.00px;width:1200px;text-align:right;">100.00</div>
<div class="t" style="top:178.53px;font-size:23px;line-height:23px;color:#252423;transform:scaleX(0.9130434782608695);transform-origin:right center;left:1331.00px;width:1200px;text-align:right;">2</div>
<div class="t" style="top:178.53px;font-size:23px;line-height:23px;color:#252423;transform:scaleX(0.9130434782608695);transform-origin:right center;left:1445.00px;width:1200px;text-align:right;">17</div>
<div class="r" style="left:65px;top:226.25px;width:16px;height:16px;border:1px solid #7a7a7a;background:#fff"></div>
<div class="r" style="left:69px;top:234.25px;width:9px;height:1px;background:#666"></div>
<div class="r" style="left:73px;top:229.75px;width:1px;height:9px;background:#666"></div>
<div class="t" style="top:220.28px;font-size:23px;line-height:23px;color:#252423;transform:scaleX(0.9347826086956522);transform-origin:left center;left:104.50px;">(A) Associated Bank Local #17 (GP15)</div>
<div class="t" style="top:220.28px;font-size:23px;line-height:23px;color:#252423;transform:scaleX(0.9130434782608695);transform-origin:right center;left:-512.50px;width:1200px;text-align:right;">$4,168</div>
<div class="t" style="top:220.28px;font-size:23px;line-height:23px;color:#108a10;transform:scaleX(0.9130434782608695);transform-origin:right center;left:-332.50px;width:1200px;text-align:right;">$4,168</div>
<div class="t" style="top:220.28px;font-size:23px;line-height:23px;color:#108a10;transform:scaleX(0.9130434782608695);transform-origin:left center;left:890.50px;">41,675,900....</div>
<div class="t" style="top:220.28px;font-size:23px;line-height:23px;color:#252423;transform:scaleX(0.9130434782608695);transform-origin:right center;left:29.00px;width:1200px;text-align:right;">$2,142</div>
<div class="t" style="top:220.28px;font-size:23px;line-height:23px;color:#ff1010;transform:scaleX(0.9130434782608695);transform-origin:right center;left:192.00px;width:1200px;text-align:right;">$2,142</div>
<div class="t" style="top:220.28px;font-size:23px;line-height:23px;color:#ff1010;transform:scaleX(0.9130434782608695);transform-origin:right center;left:345.00px;width:1200px;text-align:right;">0.00%</div>
<div class="t" style="top:220.28px;font-size:23px;line-height:23px;color:#252423;transform:scaleX(0.9130434782608695);transform-origin:right center;left:512.50px;width:1200px;text-align:right;">$2,026</div>
<div class="t" style="top:220.28px;font-size:23px;line-height:23px;color:#108a10;transform:scaleX(0.9130434782608695);transform-origin:right center;left:674.00px;width:1200px;text-align:right;">$2,026</div>
<div class="t" style="top:220.28px;font-size:23px;line-height:23px;color:#108a10;transform:scaleX(0.9130434782608695);transform-origin:left center;left:1897.00px;">20,258,300.0...</div>
<div class="t" style="top:220.28px;font-size:23px;line-height:23px;color:#252423;transform:scaleX(0.9130434782608695);transform-origin:right center;left:991.00px;width:1200px;text-align:right;">48.61%</div>
<div class="t" style="top:220.28px;font-size:23px;line-height:23px;color:#ff1010;transform:scaleX(0.9130434782608695);transform-origin:right center;left:1097.50px;width:1200px;text-align:right;">-51.39%</div>
<div class="t" style="top:220.28px;font-size:23px;line-height:23px;color:#252423;transform:scaleX(0.9130434782608695);transform-origin:right center;left:1445.00px;width:1200px;text-align:right;">38</div>
<div class="r" style="left:65px;top:268.00px;width:16px;height:16px;border:1px solid #7a7a7a;background:#fff"></div>
<div class="r" style="left:69px;top:276.00px;width:9px;height:1px;background:#666"></div>
<div class="r" style="left:73px;top:271.50px;width:1px;height:9px;background:#666"></div>
<div class="t" style="top:262.03px;font-size:23px;line-height:23px;color:#252423;transform:scaleX(0.9347826086956522);transform-origin:left center;left:104.50px;">(A) Elite Law Offices Local #17 (HENMI...</div>
<div class="t" style="top:262.03px;font-size:23px;line-height:23px;color:#252423;transform:scaleX(0.9130434782608695);transform-origin:right center;left:-512.50px;width:1200px;text-align:right;">$7,866</div>
<div class="t" style="top:262.03px;font-size:23px;line-height:23px;color:#108a10;transform:scaleX(0.9130434782608695);transform-origin:right center;left:-332.50px;width:1200px;text-align:right;">$7,866</div>
<div class="t" style="top:262.03px;font-size:23px;line-height:23px;color:#108a10;transform:scaleX(0.9130434782608695);transform-origin:left center;left:890.50px;">39,328,900....</div>
<div class="t" style="top:262.03px;font-size:23px;line-height:23px;color:#252423;transform:scaleX(0.9130434782608695);transform-origin:right center;left:29.00px;width:1200px;text-align:right;">$5,302</div>
<div class="t" style="top:262.03px;font-size:23px;line-height:23px;color:#ff1010;transform:scaleX(0.9130434782608695);transform-origin:right center;left:192.00px;width:1200px;text-align:right;">$5,302</div>
<div class="t" style="top:262.03px;font-size:23px;line-height:23px;color:#ff1010;transform:scaleX(0.9130434782608695);transform-origin:right center;left:345.00px;width:1200px;text-align:right;">0.00%</div>
<div class="t" style="top:262.03px;font-size:23px;line-height:23px;color:#252423;transform:scaleX(0.9130434782608695);transform-origin:right center;left:512.50px;width:1200px;text-align:right;">$2,564</div>
<div class="t" style="top:262.03px;font-size:23px;line-height:23px;color:#108a10;transform:scaleX(0.9130434782608695);transform-origin:right center;left:674.00px;width:1200px;text-align:right;">$2,564</div>
<div class="t" style="top:262.03px;font-size:23px;line-height:23px;color:#108a10;transform:scaleX(0.9130434782608695);transform-origin:left center;left:1897.00px;">12,821,100.0...</div>
<div class="t" style="top:262.03px;font-size:23px;line-height:23px;color:#252423;transform:scaleX(0.9130434782608695);transform-origin:right center;left:991.00px;width:1200px;text-align:right;">32.60%</div>
<div class="t" style="top:262.03px;font-size:23px;line-height:23px;color:#ff1010;transform:scaleX(0.9130434782608695);transform-origin:right center;left:1097.50px;width:1200px;text-align:right;">-67.40%</div>
<div class="t" style="top:262.03px;font-size:23px;line-height:23px;color:#252423;transform:scaleX(0.9130434782608695);transform-origin:right center;left:1445.00px;width:1200px;text-align:right;">18</div>
<div class="r" style="left:65px;top:309.75px;width:16px;height:16px;border:1px solid #7a7a7a;background:#fff"></div>
<div class="r" style="left:69px;top:317.75px;width:9px;height:1px;background:#666"></div>
<div class="r" style="left:73px;top:313.25px;width:1px;height:9px;background:#666"></div>
<div class="t" style="top:303.78px;font-size:23px;line-height:23px;color:#252423;transform:scaleX(0.9347826086956522);transform-origin:left center;left:104.50px;">(A) Northern Bank - Central Office (NB...</div>
<div class="t" style="top:303.78px;font-size:23px;line-height:23px;color:#252423;transform:scaleX(0.9130434782608695);transform-origin:right center;left:-512.50px;width:1200px;text-align:right;">$9,883</div>
<div class="t" style="top:303.78px;font-size:23px;line-height:23px;color:#108a10;transform:scaleX(0.9130434782608695);transform-origin:right center;left:-332.50px;width:1200px;text-align:right;">$9,883</div>
<div class="t" style="top:303.78px;font-size:23px;line-height:23px;color:#108a10;transform:scaleX(0.9130434782608695);transform-origin:left center;left:890.50px;">49,414,300....</div>
<div class="t" style="top:303.78px;font-size:23px;line-height:23px;color:#252423;transform:scaleX(0.9130434782608695);transform-origin:right center;left:29.00px;width:1200px;text-align:right;">$7,805</div>
<div class="t" style="top:303.78px;font-size:23px;line-height:23px;color:#ff1010;transform:scaleX(0.9130434782608695);transform-origin:right center;left:192.00px;width:1200px;text-align:right;">$7,805</div>
<div class="t" style="top:303.78px;font-size:23px;line-height:23px;color:#ff1010;transform:scaleX(0.9130434782608695);transform-origin:right center;left:345.00px;width:1200px;text-align:right;">0.00%</div>
<div class="t" style="top:303.78px;font-size:23px;line-height:23px;color:#252423;transform:scaleX(0.9130434782608695);transform-origin:right center;left:512.50px;width:1200px;text-align:right;">$2,078</div>
<div class="t" style="top:303.78px;font-size:23px;line-height:23px;color:#108a10;transform:scaleX(0.9130434782608695);transform-origin:right center;left:674.00px;width:1200px;text-align:right;">$2,078</div>
<div class="t" style="top:303.78px;font-size:23px;line-height:23px;color:#108a10;transform:scaleX(0.9130434782608695);transform-origin:left center;left:1897.00px;">10,389,000.0...</div>
<div class="t" style="top:303.78px;font-size:23px;line-height:23px;color:#252423;transform:scaleX(0.9130434782608695);transform-origin:right center;left:991.00px;width:1200px;text-align:right;">21.02%</div>
<div class="t" style="top:303.78px;font-size:23px;line-height:23px;color:#ff1010;transform:scaleX(0.9130434782608695);transform-origin:right center;left:1097.50px;width:1200px;text-align:right;">-78.98%</div>
<div class="t" style="top:303.78px;font-size:23px;line-height:23px;color:#252423;transform:scaleX(0.9130434782608695);transform-origin:right center;left:1445.00px;width:1200px;text-align:right;">-6</div>
<div class="r" style="left:65px;top:351.50px;width:16px;height:16px;border:1px solid #7a7a7a;background:#fff"></div>
<div class="r" style="left:69px;top:359.50px;width:9px;height:1px;background:#666"></div>
<div class="r" style="left:73px;top:355.00px;width:1px;height:9px;background:#666"></div>
<div class="t" style="top:345.53px;font-size:23px;line-height:23px;color:#252423;transform:scaleX(0.9347826086956522);transform-origin:left center;left:104.50px;">(A) First Auto Dealership and Associate...</div>
<div class="t" style="top:345.53px;font-size:23px;line-height:23px;color:#252423;transform:scaleX(0.9130434782608695);transform-origin:right center;left:-512.50px;width:1200px;text-align:right;">$9,012</div>
<div class="t" style="top:345.53px;font-size:23px;line-height:23px;color:#108a10;transform:scaleX(0.9130434782608695);transform-origin:right center;left:-332.50px;width:1200px;text-align:right;">$9,012</div>
<div class="t" style="top:345.53px;font-size:23px;line-height:23px;color:#108a10;transform:scaleX(0.9130434782608695);transform-origin:left center;left:890.50px;">4,505,915.0...</div>
<div class="t" style="top:345.53px;font-size:23px;line-height:23px;color:#252423;transform:scaleX(0.9130434782608695);transform-origin:right center;left:29.00px;width:1200px;text-align:right;">$1,093</div>
<div class="t" style="top:345.53px;font-size:23px;line-height:23px;color:#ff1010;transform:scaleX(0.9130434782608695);transform-origin:right center;left:192.00px;width:1200px;text-align:right;">$1,093</div>
<div class="t" style="top:345.53px;font-size:23px;line-height:23px;color:#ff1010;transform:scaleX(0.9130434782608695);transform-origin:right center;left:345.00px;width:1200px;text-align:right;">0.00%</div>
<div class="t" style="top:345.53px;font-size:23px;line-height:23px;color:#252423;transform:scaleX(0.9130434782608695);transform-origin:right center;left:512.50px;width:1200px;text-align:right;">$7,918</div>
<div class="t" style="top:345.53px;font-size:23px;line-height:23px;color:#108a10;transform:scaleX(0.9130434782608695);transform-origin:right center;left:674.00px;width:1200px;text-align:right;">$7,919</div>
<div class="t" style="top:345.53px;font-size:23px;line-height:23px;color:#108a10;transform:scaleX(0.9130434782608695);transform-origin:left center;left:1897.00px;">3,959,290.00%</div>
<div class="t" style="top:345.53px;font-size:23px;line-height:23px;color:#252423;transform:scaleX(0.9130434782608695);transform-origin:right center;left:991.00px;width:1200px;text-align:right;">87.87%</div>
<div class="t" style="top:345.53px;font-size:23px;line-height:23px;color:#ff1010;transform:scaleX(0.9130434782608695);transform-origin:right center;left:1097.50px;width:1200px;text-align:right;">-12.13%</div>
<div class="t" style="top:345.53px;font-size:23px;line-height:23px;color:#252423;transform:scaleX(0.9130434782608695);transform-origin:right center;left:1445.00px;width:1200px;text-align:right;">23</div>
<div class="r" style="left:65px;top:393.25px;width:16px;height:16px;border:1px solid #7a7a7a;background:#fff"></div>
<div class="r" style="left:69px;top:401.25px;width:9px;height:1px;background:#666"></div>
<div class="r" style="left:73px;top:396.75px;width:1px;height:9px;background:#666"></div>
<div class="t" style="top:387.28px;font-size:23px;line-height:23px;color:#252423;transform:scaleX(0.9347826086956522);transform-origin:left center;left:104.50px;">(A) AAA Bank Incorporated (TB15)</div>
<div class="t" style="top:387.28px;font-size:23px;line-height:23px;color:#252423;transform:scaleX(0.9130434782608695);transform-origin:right center;left:-512.50px;width:1200px;text-align:right;">$7,133</div>
<div class="t" style="top:387.28px;font-size:23px;line-height:23px;color:#108a10;transform:scaleX(0.9130434782608695);transform-origin:right center;left:-332.50px;width:1200px;text-align:right;">$7,133</div>
<div class="t" style="top:387.28px;font-size:23px;line-height:23px;color:#108a10;transform:scaleX(0.9130434782608695);transform-origin:left center;left:890.50px;">10,189,700....</div>
<div class="t" style="top:387.28px;font-size:23px;line-height:23px;color:#252423;transform:scaleX(0.9130434782608695);transform-origin:right center;left:29.00px;width:1200px;text-align:right;">$4,539</div>
<div class="t" style="top:387.28px;font-size:23px;line-height:23px;color:#ff1010;transform:scaleX(0.9130434782608695);transform-origin:right center;left:192.00px;width:1200px;text-align:right;">$4,539</div>
<div class="t" style="top:387.28px;font-size:23px;line-height:23px;color:#ff1010;transform:scaleX(0.9130434782608695);transform-origin:right center;left:345.00px;width:1200px;text-align:right;">0.00%</div>
<div class="t" style="top:387.28px;font-size:23px;line-height:23px;color:#252423;transform:scaleX(0.9130434782608695);transform-origin:right center;left:512.50px;width:1200px;text-align:right;">$2,594</div>
<div class="t" style="top:387.28px;font-size:23px;line-height:23px;color:#108a10;transform:scaleX(0.9130434782608695);transform-origin:right center;left:674.00px;width:1200px;text-align:right;">$2,594</div>
<div class="t" style="top:387.28px;font-size:23px;line-height:23px;color:#108a10;transform:scaleX(0.9130434782608695);transform-origin:left center;left:1897.00px;">3,705,200.00%</div>
<div class="t" style="top:387.28px;font-size:23px;line-height:23px;color:#252423;transform:scaleX(0.9130434782608695);transform-origin:right center;left:991.00px;width:1200px;text-align:right;">36.36%</div>
<div class="t" style="top:387.28px;font-size:23px;line-height:23px;color:#ff1010;transform:scaleX(0.9130434782608695);transform-origin:right center;left:1097.50px;width:1200px;text-align:right;">-63.64%</div>
<div class="t" style="top:387.28px;font-size:23px;line-height:23px;color:#252423;transform:scaleX(0.9130434782608695);transform-origin:right center;left:1445.00px;width:1200px;text-align:right;">-1</div>
<div class="r" style="left:65px;top:435.00px;width:16px;height:16px;border:1px solid #7a7a7a;background:#fff"></div>
<div class="r" style="left:69px;top:443.00px;width:9px;height:1px;background:#666"></div>
<div class="r" style="left:73px;top:438.50px;width:1px;height:9px;background:#666"></div>
<div class="t" style="top:429.03px;font-size:23px;line-height:23px;color:#252423;transform:scaleX(0.9347826086956522);transform-origin:left center;left:104.50px;">(A) Associated Auto Dealership, Inc (N...</div>
<div class="t" style="top:429.03px;font-size:23px;line-height:23px;color:#252423;transform:scaleX(0.9130434782608695);transform-origin:right center;left:-512.50px;width:1200px;text-align:right;">$33,649</div>
<div class="t" style="top:429.03px;font-size:23px;line-height:23px;color:#108a10;transform:scaleX(0.9130434782608695);transform-origin:right center;left:-332.50px;width:1200px;text-align:right;">$33,648</div>
<div class="t" style="top:429.03px;font-size:23px;line-height:23px;color:#108a10;transform:scaleX(0.9130434782608695);transform-origin:left center;left:890.50px;">2,386,387.9...</div>
<div class="t" style="top:429.03px;font-size:23px;line-height:23px;color:#252423;transform:scaleX(0.9130434782608695);transform-origin:right center;left:29.00px;width:1200px;text-align:right;">$11,434</div>
<div class="t" style="top:429.03px;font-size:23px;line-height:23px;color:#ff1010;transform:scaleX(0.9130434782608695);transform-origin:right center;left:192.00px;width:1200px;text-align:right;">$11,434</div>
<div class="t" style="top:429.03px;font-size:23px;line-height:23px;color:#ff1010;transform:scaleX(0.9130434782608695);transform-origin:right center;left:345.00px;width:1200px;text-align:right;">0.00%</div>
<div class="t" style="top:429.03px;font-size:23px;line-height:23px;color:#252423;transform:scaleX(0.9130434782608695);transform-origin:right center;left:512.50px;width:1200px;text-align:right;">$22,216</div>
<div class="t" style="top:429.03px;font-size:23px;line-height:23px;color:#108a10;transform:scaleX(0.9130434782608695);transform-origin:right center;left:674.00px;width:1200px;text-align:right;">$22,214</div>
<div class="t" style="top:429.03px;font-size:23px;line-height:23px;color:#108a10;transform:scaleX(0.9130434782608695);transform-origin:left center;left:1897.00px;">1,575,487.94%</div>
<div class="t" style="top:429.03px;font-size:23px;line-height:23px;color:#252423;transform:scaleX(0.9130434782608695);transform-origin:right center;left:991.00px;width:1200px;text-align:right;">66.02%</div>
<div class="t" style="top:429.03px;font-size:23px;line-height:23px;color:#ff1010;transform:scaleX(0.9130434782608695);transform-origin:right center;left:1097.50px;width:1200px;text-align:right;">-33.98%</div>
<div class="t" style="top:429.03px;font-size:23px;line-height:23px;color:#252423;transform:scaleX(0.9130434782608695);transform-origin:right center;left:1445.00px;width:1200px;text-align:right;">17</div>
<div class="r" style="left:65px;top:476.75px;width:16px;height:16px;border:1px solid #7a7a7a;background:#fff"></div>
<div class="r" style="left:69px;top:484.75px;width:9px;height:1px;background:#666"></div>
<div class="r" style="left:73px;top:480.25px;width:1px;height:9px;background:#666"></div>
<div class="t" style="top:470.78px;font-size:23px;line-height:23px;color:#252423;transform:scaleX(0.9347826086956522);transform-origin:left center;left:104.50px;">(A) AAA University - Midland Branch (A...</div>
<div class="t" style="top:470.78px;font-size:23px;line-height:23px;color:#252423;transform:scaleX(0.9130434782608695);transform-origin:right center;left:-512.50px;width:1200px;text-align:right;">$955</div>
<div class="t" style="top:470.78px;font-size:23px;line-height:23px;color:#108a10;transform:scaleX(0.9130434782608695);transform-origin:right center;left:-332.50px;width:1200px;text-align:right;">$955</div>
<div class="t" style="top:470.78px;font-size:23px;line-height:23px;color:#108a10;transform:scaleX(0.9130434782608695);transform-origin:left center;left:890.50px;">2,387,425.0...</div>
<div class="t" style="top:470.78px;font-size:23px;line-height:23px;color:#252423;transform:scaleX(0.9130434782608695);transform-origin:right center;left:29.00px;width:1200px;text-align:right;">$380</div>
<div class="t" style="top:470.78px;font-size:23px;line-height:23px;color:#ff1010;transform:scaleX(0.9130434782608695);transform-origin:right center;left:192.00px;width:1200px;text-align:right;">$380</div>
<div class="t" style="top:470.78px;font-size:23px;line-height:23px;color:#ff1010;transform:scaleX(0.9130434782608695);transform-origin:right center;left:345.00px;width:1200px;text-align:right;">0.00%</div>
<div class="t" style="top:470.78px;font-size:23px;line-height:23px;color:#252423;transform:scaleX(0.9130434782608695);transform-origin:right center;left:512.50px;width:1200px;text-align:right;">$575</div>
<div class="t" style="top:470.78px;font-size:23px;line-height:23px;color:#108a10;transform:scaleX(0.9130434782608695);transform-origin:right center;left:674.00px;width:1200px;text-align:right;">$575</div>
<div class="t" style="top:470.78px;font-size:23px;line-height:23px;color:#108a10;transform:scaleX(0.9130434782608695);transform-origin:left center;left:1897.00px;">1,436,325.00%</div>
<div class="t" style="top:470.78px;font-size:23px;line-height:23px;color:#252423;transform:scaleX(0.9130434782608695);transform-origin:right center;left:991.00px;width:1200px;text-align:right;">60.16%</div>
<div class="t" style="top:470.78px;font-size:23px;line-height:23px;color:#ff1010;transform:scaleX(0.9130434782608695);transform-origin:right center;left:1097.50px;width:1200px;text-align:right;">-39.84%</div>
<div class="t" style="top:470.78px;font-size:23px;line-height:23px;color:#252423;transform:scaleX(0.9130434782608695);transform-origin:right center;left:1445.00px;width:1200px;text-align:right;">18</div>
</div>
<div class="t" style="top:970.47px;font-size:21.6px;line-height:21.6px;color:#000;font-weight:bold;left:104.50px;">Total</div>
<div class="t" style="top:969.53px;font-size:22.7px;line-height:22.7px;color:#000;font-weight:bold;left:-512.00px;width:1200px;text-align:right;">$5,940,986</div>
<div class="t" style="top:969.53px;font-size:22.7px;line-height:22.7px;color:#ff1010;font-weight:bold;left:-332.00px;width:1200px;text-align:right;">($14,556,495)</div>
<div class="t" style="top:969.53px;font-size:22.7px;line-height:22.7px;color:#ff1010;font-weight:bold;left:-173.00px;width:1200px;text-align:right;">-71.02%</div>
<div class="t" style="top:969.53px;font-size:22.7px;line-height:22.7px;color:#000;font-weight:bold;left:29.00px;width:1200px;text-align:right;">$3,084,116</div>
<div class="t" style="top:969.53px;font-size:22.7px;line-height:22.7px;color:#0e820e;font-weight:bold;left:191.00px;width:1200px;text-align:right;">($6,647,055)</div>
<div class="t" style="top:969.53px;font-size:22.7px;line-height:22.7px;color:#0e820e;font-weight:bold;left:345.00px;width:1200px;text-align:right;">-68.31%</div>
<div class="t" style="top:969.53px;font-size:22.7px;line-height:22.7px;color:#000;font-weight:bold;left:512.50px;width:1200px;text-align:right;">$2,856,870</div>
<div class="t" style="top:969.53px;font-size:22.7px;line-height:22.7px;color:#ff1010;font-weight:bold;left:674.00px;width:1200px;text-align:right;">($7,909,440)</div>
<div class="t" style="top:969.53px;font-size:22.7px;line-height:22.7px;color:#ff1010;font-weight:bold;left:843.00px;width:1200px;text-align:right;">-73.46%</div>
<div class="t" style="top:969.53px;font-size:22.7px;line-height:22.7px;color:#000;font-weight:bold;left:991.00px;width:1200px;text-align:right;">48.09%</div>
<div class="t" style="top:969.53px;font-size:22.7px;line-height:22.7px;color:#ff1010;font-weight:bold;left:1097.50px;width:1200px;text-align:right;">-4.44%</div>
<div class="t" style="top:969.53px;font-size:22.7px;line-height:22.7px;color:#000;font-weight:bold;left:1230.00px;width:1200px;text-align:right;">90.00</div>
<div class="t" style="top:969.53px;font-size:22.7px;line-height:22.7px;color:#000;font-weight:bold;left:1331.00px;width:1200px;text-align:right;">140</div>
<div class="t" style="top:969.53px;font-size:22.7px;line-height:22.7px;color:#000;font-weight:bold;left:1445.00px;width:1200px;text-align:right;">339</div>
<div class="r" style="left:2685px;top:386px;width:20px;height:596px;background:#f0f0f0;"></div>
<div class="r" style="left:2685px;top:442px;width:20px;height:21px;background:#c8c8c8;"></div>
<svg style="position:absolute;left:2687px;top:405px" width="16" height="16" viewBox="0 0 16 16"><polyline points="2,13 8,6 14,13" fill="none" stroke="#333" stroke-width="1.5"/></svg>
<svg style="position:absolute;left:2687px;top:945px" width="16" height="16" viewBox="0 0 16 16"><polyline points="2,4 8,11 14,4" fill="none" stroke="#333" stroke-width="1.5"/></svg>
<div class="t" style="top:1077.71px;font-size:21.9px;line-height:21.9px;color:#252423;left:92.00px;">MoM Trends</div>
<div class="t" style="top:1077.71px;font-size:21.9px;line-height:21.9px;color:#252423;left:227.50px;">(</div>
<div class="t" style="top:1078.81px;font-size:20.6px;line-height:20.6px;color:#252423;left:240.00px;text-underline-offset:3px;text-decoration-thickness:1.5px;"><u>Revenue</u>,</div>
<div class="t" style="top:1078.98px;font-size:20.4px;line-height:20.4px;color:#252423;left:334.50px;text-underline-offset:3px;text-decoration-thickness:1.5px;"><u>Cost</u>,</div>
<div class="t" style="top:1077.71px;font-size:21.9px;line-height:21.9px;color:#252423;left:389.00px;text-underline-offset:3px;text-decoration-thickness:1.5px;"><u>Profit</u>,</div>
<div class="t" style="top:1077.71px;font-size:21.9px;line-height:21.9px;color:#252423;left:453.00px;text-underline-offset:3px;text-decoration-thickness:1.5px;"><u>Margin&nbsp;</u></div>
<div class="t" style="top:1077.71px;font-size:21.9px;line-height:21.9px;color:#252423;left:529.00px;">)</div>
<div class="t" style="top:1077.46px;font-size:22.2px;line-height:22.2px;color:#fb1c26;left:549.00px;">*** Trend lines are evaluated for the selected reporting period</div>
<svg style="position:absolute;left:0;top:0" width="2723" height="1505" viewBox="0 0 2723 1505"><rect x="114.5" y="1211.3" width="586.5" height="2" fill="#f2f2f2"/><rect x="114.5" y="1333.3" width="586.5" height="2" fill="#f2f2f2"/><rect x="114.5" y="1455.2" width="586.5" height="2" fill="#f2f2f2"/><polygon points="135,1455.5 135,1349.5 185.5,1362.8 241.5,1166 295,1310 351,1363.3 681,1454 681,1455.5" fill="#bfbfbf"/><polyline points="135,1349.5 185.5,1362.8 241.5,1166 295,1310 351,1363.3 681,1454" fill="none" stroke="#767676" stroke-width="2.2" stroke-linejoin="round"/><rect x="135" y="1348.0" width="8.5" height="3" fill="#767676"/><rect x="185.5" y="1361.3" width="8.5" height="3" fill="#767676"/><rect x="241.5" y="1164.5" width="8.5" height="3" fill="#767676"/><rect x="295" y="1308.5" width="8.5" height="3" fill="#767676"/><rect x="351" y="1361.8" width="8.5" height="3" fill="#767676"/><rect x="681" y="1452.5" width="8.5" height="3" fill="#767676"/><clipPath id="c114"><polygon points="135,1455.5 135,1349.5 185.5,1362.8 241.5,1166 295,1310 351,1363.3 681,1454 681,1455.5"/></clipPath><rect x="114.5" y="1211.3" width="586.5" height="2" fill="rgba(0,0,0,0.045)" clip-path="url(#c114)"/><rect x="114.5" y="1333.3" width="586.5" height="2" fill="rgba(0,0,0,0.045)" clip-path="url(#c114)"/><rect x="114.5" y="1455.2" width="586.5" height="2" fill="rgba(0,0,0,0.045)" clip-path="url(#c114)"/><line x1="134.8" y1="1285.4" x2="680.9" y2="1433.9" stroke="#e8333f" stroke-width="4" stroke-linecap="round" stroke-dasharray="2.6 9.8"/></svg>
<div class="t" style="top:1196.92px;font-size:19px;line-height:19px;color:#252423;left:215.00px;">$2.4M</div>
<div class="t" style="top:1265.82px;font-size:19px;line-height:19px;color:#252423;left:269.00px;">$1.2M</div>
<div class="t" style="top:1304.92px;font-size:19px;line-height:19px;color:#252423;left:122.00px;">$0.9M</div>
<div class="t" style="top:1392.62px;font-size:19px;line-height:19px;color:#252423;left:159.50px;">$0.8M</div>
<div class="t" style="top:1319.22px;font-size:19px;line-height:19px;color:#252423;left:324.70px;">$0.8M</div>
<div class="t" style="top:1448.72px;font-size:19px;line-height:19px;color:#252423;left:641.00px;">$0.0M</div>
<div class="t" style="top:1203.32px;font-size:19px;line-height:19px;color:#252423;left:55.00px;">$2M</div>
<div class="t" style="top:1324.92px;font-size:19px;line-height:19px;color:#252423;left:55.00px;">$1M</div>
<div class="t" style="top:1446.62px;font-size:19px;line-height:19px;color:#252423;left:55.00px;">$0M</div>
<div class="t" style="top:1471.22px;font-size:21px;line-height:21px;color:#252423;left:-192.00px;width:1200px;text-align:center;">Revenue</div>
<svg style="position:absolute;left:0;top:0" width="2723" height="1505" viewBox="0 0 2723 1505"><rect x="798.7" y="1149.5" width="570.3" height="2" fill="#f2f2f2"/><rect x="798.7" y="1226.3" width="570.3" height="2" fill="#f2f2f2"/><rect x="798.7" y="1302.8" width="570.3" height="2" fill="#f2f2f2"/><rect x="798.7" y="1379" width="570.3" height="2" fill="#f2f2f2"/><rect x="798.7" y="1455" width="570.3" height="2" fill="#f2f2f2"/><polygon points="819.8,1455.5 819.8,1405.7 868,1411 922,1211.4 974.4,1382.2 1029.3,1393.9 1347.5,1454.7 1347.5,1455.5" fill="#bfbfbf"/><polyline points="819.8,1405.7 868,1411 922,1211.4 974.4,1382.2 1029.3,1393.9 1347.5,1454.7" fill="none" stroke="#767676" stroke-width="2.2" stroke-linejoin="round"/><rect x="819.8" y="1404.2" width="8.5" height="3" fill="#767676"/><rect x="868" y="1409.5" width="8.5" height="3" fill="#767676"/><rect x="922" y="1209.9" width="8.5" height="3" fill="#767676"/><rect x="974.4" y="1380.7" width="8.5" height="3" fill="#767676"/><rect x="1029.3" y="1392.4" width="8.5" height="3" fill="#767676"/><rect x="1347.5" y="1453.2" width="8.5" height="3" fill="#767676"/><clipPath id="c798"><polygon points="819.8,1455.5 819.8,1405.7 868,1411 922,1211.4 974.4,1382.2 1029.3,1393.9 1347.5,1454.7 1347.5,1455.5"/></clipPath><rect x="798.7" y="1149.5" width="570.3" height="2" fill="rgba(0,0,0,0.045)" clip-path="url(#c798)"/><rect x="798.7" y="1226.3" width="570.3" height="2" fill="rgba(0,0,0,0.045)" clip-path="url(#c798)"/><rect x="798.7" y="1302.8" width="570.3" height="2" fill="rgba(0,0,0,0.045)" clip-path="url(#c798)"/><rect x="798.7" y="1379" width="570.3" height="2" fill="rgba(0,0,0,0.045)" clip-path="url(#c798)"/><rect x="798.7" y="1455" width="570.3" height="2" fill="rgba(0,0,0,0.045)" clip-path="url(#c798)"/><line x1="819" y1="1346.5" x2="1340.7" y2="1436.3" stroke="#e8333f" stroke-width="4" stroke-linecap="round" stroke-dasharray="2.6 9.8"/></svg>
<div class="t" style="top:1167.42px;font-size:19px;line-height:19px;color:#252423;left:890.60px;">$1.60M</div>
<div class="t" style="top:1362.12px;font-size:19px;line-height:19px;color:#252423;left:805.40px;">$0.32M</div>
<div class="t" style="top:1350.42px;font-size:19px;line-height:19px;color:#252423;left:996.80px;">$0.40M</div>
<div class="t" style="top:1412.12px;font-size:19px;line-height:19px;color:#252423;left:942.80px;">$0.47M</div>
<div class="t" style="top:1439.92px;font-size:19px;line-height:19px;color:#252423;left:836.50px;">$0.29M</div>
<div class="t" style="top:1448.62px;font-size:19px;line-height:19px;color:#252423;left:1298.00px;">$0.00M</div>
<div class="t" style="top:1141.72px;font-size:19px;line-height:19px;color:#252423;left:723.80px;">$2.0M</div>
<div class="t" style="top:1218.52px;font-size:19px;line-height:19px;color:#252423;left:723.80px;">$1.5M</div>
<div class="t" style="top:1295.02px;font-size:19px;line-height:19px;color:#252423;left:723.80px;">$1.0M</div>
<div class="t" style="top:1371.22px;font-size:19px;line-height:19px;color:#252423;left:723.80px;">$0.5M</div>
<div class="t" style="top:1447.22px;font-size:19px;line-height:19px;color:#252423;left:723.80px;">$0.0M</div>
<div class="t" style="top:1471.22px;font-size:21px;line-height:21px;color:#252423;left:484.00px;width:1200px;text-align:center;">Cost</div>
<svg style="position:absolute;left:0;top:0" width="2723" height="1505" viewBox="0 0 2723 1505"><rect x="1466" y="1149.5" width="570.4000000000001" height="2" fill="#f2f2f2"/><rect x="1466" y="1226.3" width="570.4000000000001" height="2" fill="#f2f2f2"/><rect x="1466" y="1302.8" width="570.4000000000001" height="2" fill="#f2f2f2"/><rect x="1466" y="1379" width="570.4000000000001" height="2" fill="#f2f2f2"/><rect x="1466" y="1455" width="570.4000000000001" height="2" fill="#f2f2f2"/><polygon points="1487,1455.5 1487,1247.9 1536.3,1276 1590.3,1162.7 1642.5,1179 1696.6,1320 2022.9,1454.7 2022.9,1455.5" fill="#bfbfbf"/><polyline points="1487,1247.9 1536.3,1276 1590.3,1162.7 1642.5,1179 1696.6,1320 2022.9,1454.7" fill="none" stroke="#767676" stroke-width="2.2" stroke-linejoin="round"/><rect x="1487" y="1246.4" width="8.5" height="3" fill="#767676"/><rect x="1536.3" y="1274.5" width="8.5" height="3" fill="#767676"/><rect x="1590.3" y="1161.2" width="8.5" height="3" fill="#767676"/><rect x="1642.5" y="1177.5" width="8.5" height="3" fill="#767676"/><rect x="1696.6" y="1318.5" width="8.5" height="3" fill="#767676"/><rect x="2022.9" y="1453.2" width="8.5" height="3" fill="#767676"/><clipPath id="c1466"><polygon points="1487,1455.5 1487,1247.9 1536.3,1276 1590.3,1162.7 1642.5,1179 1696.6,1320 2022.9,1454.7 2022.9,1455.5"/></clipPath><rect x="1466" y="1149.5" width="570.4000000000001" height="2" fill="rgba(0,0,0,0.045)" clip-path="url(#c1466)"/><rect x="1466" y="1226.3" width="570.4000000000001" height="2" fill="rgba(0,0,0,0.045)" clip-path="url(#c1466)"/><rect x="1466" y="1302.8" width="570.4000000000001" height="2" fill="rgba(0,0,0,0.045)" clip-path="url(#c1466)"/><rect x="1466" y="1379" width="570.4000000000001" height="2" fill="rgba(0,0,0,0.045)" clip-path="url(#c1466)"/><rect x="1466" y="1455" width="570.4000000000001" height="2" fill="rgba(0,0,0,0.045)" clip-path="url(#c1466)"/><line x1="1486.8" y1="1195.2" x2="2014.8" y2="1432.2" stroke="#e8333f" stroke-width="4" stroke-linecap="round" stroke-dasharray="2.6 9.8"/></svg>
<div class="t" style="top:1172.92px;font-size:19px;line-height:19px;color:#252423;left:1676.30px;">$0.72M</div>
<div class="t" style="top:1192.62px;font-size:19px;line-height:19px;color:#252423;left:1558.40px;">$0.77M</div>
<div class="t" style="top:1204.52px;font-size:19px;line-height:19px;color:#252423;left:1473.30px;">$0.54M</div>
<div class="t" style="top:1305.32px;font-size:19px;line-height:19px;color:#252423;left:1503.80px;">$0.47M</div>
<div class="t" style="top:1276.42px;font-size:19px;line-height:19px;color:#252423;left:1664.70px;">$0.35M</div>
<div class="t" style="top:1448.62px;font-size:19px;line-height:19px;color:#252423;left:1966.10px;">$0.00M</div>
<div class="t" style="top:1141.72px;font-size:19px;line-height:19px;color:#252423;left:1391.00px;">$0.8M</div>
<div class="t" style="top:1218.52px;font-size:19px;line-height:19px;color:#252423;left:1391.00px;">$0.6M</div>
<div class="t" style="top:1295.02px;font-size:19px;line-height:19px;color:#252423;left:1391.00px;">$0.4M</div>
<div class="t" style="top:1371.22px;font-size:19px;line-height:19px;color:#252423;left:1391.00px;">$0.2M</div>
<div class="t" style="top:1447.22px;font-size:19px;line-height:19px;color:#252423;left:1391.00px;">$0.0M</div>
<div class="t" style="top:1471.22px;font-size:21px;line-height:21px;color:#252423;left:1151.00px;width:1200px;text-align:center;">Profit</div>
<svg style="position:absolute;left:0;top:0" width="2723" height="1505" viewBox="0 0 2723 1505"><rect x="2116.5" y="1226.3" width="587.5" height="2" fill="#f2f2f2"/><rect x="2116.5" y="1379" width="587.5" height="2" fill="#f2f2f2"/><polygon points="2137.6,1457.4 2137.6,1206 2265.2,1211.9 2406.6,1436.8 2541.8,1223.3 2683.2,1326 2683.2,1457.4" fill="#bfbfbf"/><polyline points="2137.6,1206 2265.2,1211.9 2406.6,1436.8 2541.8,1223.3 2683.2,1326" fill="none" stroke="#767676" stroke-width="2.2" stroke-linejoin="round"/><rect x="2137.6" y="1204.5" width="8.5" height="3" fill="#767676"/><rect x="2265.2" y="1210.4" width="8.5" height="3" fill="#767676"/><rect x="2406.6" y="1435.3" width="8.5" height="3" fill="#767676"/><rect x="2541.8" y="1221.8" width="8.5" height="3" fill="#767676"/><rect x="2683.2" y="1324.5" width="8.5" height="3" fill="#767676"/><clipPath id="c2116"><polygon points="2137.6,1457.4 2137.6,1206 2265.2,1211.9 2406.6,1436.8 2541.8,1223.3 2683.2,1326 2683.2,1457.4"/></clipPath><rect x="2116.5" y="1226.3" width="587.5" height="2" fill="rgba(0,0,0,0.045)" clip-path="url(#c2116)"/><rect x="2116.5" y="1379" width="587.5" height="2" fill="rgba(0,0,0,0.045)" clip-path="url(#c2116)"/><line x1="2137.6" y1="1230.8" x2="2682.4" y2="1330.9" stroke="#e8333f" stroke-width="4" stroke-linecap="round" stroke-dasharray="2.6 9.8"/></svg>
<div class="t" style="top:1161.92px;font-size:19px;line-height:19px;color:#252423;left:2123.30px;">62.65%</div>
<div class="t" style="top:1168.22px;font-size:19px;line-height:19px;color:#252423;left:2233.60px;">61.93%</div>
<div class="t" style="top:1179.62px;font-size:19px;line-height:19px;color:#252423;left:2510.70px;">60.45%</div>
<div class="t" style="top:1393.72px;font-size:19px;line-height:19px;color:#252423;left:2374.20px;">32.41%</div>
<div class="t" style="top:1355.92px;font-size:19px;line-height:19px;color:#252423;left:2634.50px;">46.95%</div>
<div class="t" style="top:1216.92px;font-size:19px;line-height:19px;color:#252423;left:2057.90px;">60%</div>
<div class="t" style="top:1370.22px;font-size:19px;line-height:19px;color:#252423;left:2057.90px;">40%</div>
<div class="t" style="top:1471.22px;font-size:21px;line-height:21px;color:#252423;left:1810.00px;width:1200px;text-align:center;">Margin</div>
</body></html>
